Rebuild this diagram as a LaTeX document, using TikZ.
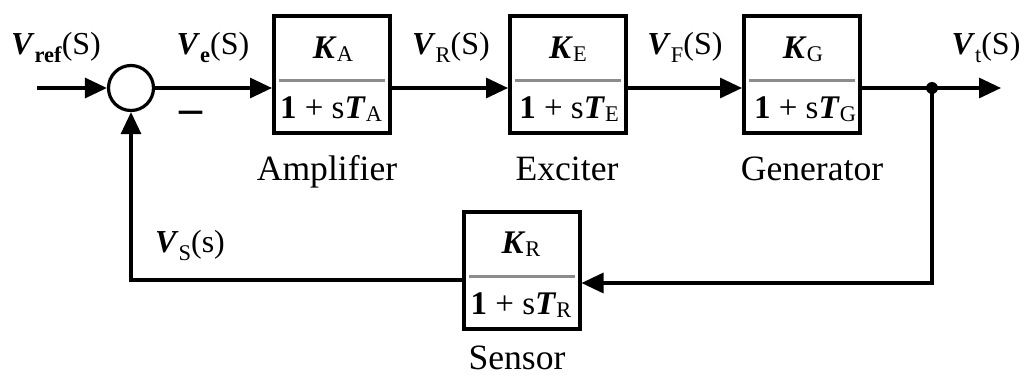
\documentclass[tikz,border=0pt]{standalone}
\usepackage{fontspec}
\setmainfont{Liberation Serif}
\usetikzlibrary{arrows.meta}
\newcommand\lbsub[1]{\raisebox{-0.28em}{\fontsize{11.2}{12}\selectfont #1}}
\newcommand\dnsub[1]{\raisebox{-0.12em}{\fontsize{11.2}{12}\selectfont #1}}
\newcommand\bV{\textbf{\textit{V}}}
\newcommand\bK{\textbf{\textit{K}}}
\newcommand\bT{\textbf{\textit{T}}}
\begin{document}
\begin{tikzpicture}[x=0.5pt,y=-0.5pt,
  conn/.style={line width=1.6pt},
  arr/.style={line width=1.6pt,-{Triangle[length=11pt,width=10pt]}},
  blk/.style={draw,line width=2pt,minimum width=58pt,minimum height=58.5pt,inner sep=0pt},
  sumj/.style={draw,circle,line width=1.6pt,minimum size=22.5pt,inner sep=0pt},
  lbl/.style={anchor=base,inner sep=0pt,font=\fontsize{16}{18}\selectfont},
  frac/.style={anchor=base,inner sep=0pt,font=\fontsize{16.5}{18}\selectfont},
  nm/.style={anchor=base,inner sep=0pt,font=\fontsize{17.8}{20}\selectfont},
  divl/.style={line width=1.5pt,draw=black!45}]
\useasboundingbox (0,0) rectangle (1027,376);
% helper coordinates
\coordinate (ml) at (0,88);
\coordinate (dv) at (0,80);
\coordinate (dvs) at (0,276);
\coordinate (fbr) at (0,283);
\coordinate (fbl) at (0,280);
\coordinate (in) at (37,88);
\coordinate (out) at (1001,88);
% blocks
\node[sumj] (sum) at (131,88) {};
\node[blk] (amp) at (332,74.5) {};
\node[blk] (exc) at (568,74.5) {};
\node[blk] (gen) at (802,74.5) {};
\node[blk] (sen) at (521.5,270.5) {};
\fill (932,88) circle (3pt) coordinate (dot);
% dividers
\draw[divl] ([xshift=3.5pt]amp.west |- dv) -- ([xshift=-3.5pt]amp.east |- dv);
\draw[divl] ([xshift=3.5pt]exc.west |- dv) -- ([xshift=-3.5pt]exc.east |- dv);
\draw[divl] ([xshift=3.5pt]gen.west |- dv) -- ([xshift=-3.5pt]gen.east |- dv);
\draw[divl] ([xshift=3.5pt]sen.west |- dvs) -- ([xshift=-3.5pt]sen.east |- dvs);
% fractions
\node[frac] (ka) at (333,58) {\bK\dnsub{A}};
\node[frac] (da) at (331,118) {\textbf{1} + s\bT\dnsub{A}};
\node[frac] (ke) at (568,58) {\bK\dnsub{E}};
\node[frac] (de) at (569,118) {\textbf{1} + s\bT\dnsub{E}};
\node[frac] (kg) at (803,58) {\bK\dnsub{G}};
\node[frac] (dg) at (805,118) {\textbf{1} + s\bT\dnsub{G}};
\node[frac] (kr) at (521,253) {\bK\dnsub{R}};
\node[frac] (dr) at (521,314) {\textbf{1} + s\bT\dnsub{R}};
% signal labels
\node[lbl] (lref) at (56,54) {\bV\lbsub{\textbf{ref}}(S)};
\node[lbl] (le) at (213,54) {\bV\lbsub{\textbf{e}}(S)};
\node[lbl] (lr) at (451,54) {\bV\lbsub{R}(S)};
\node[lbl] (lf) at (685,54) {\bV\lbsub{F}(S)};
\node[lbl] (lt) at (986,54) {\bV\lbsub{t}(S)};
\node[lbl] (ls) at (190,252) {\bV\lbsub{S}(s)};
\node[anchor=base,inner sep=0pt] (minus) at (191.5,123.5) {\fontsize{23}{23}\selectfont\textbf{–}};
% block names
\node[nm] (namp) at (327,180) {Amplifier};
\node[nm] (nexc) at (567,180) {Exciter};
\node[nm] (ngen) at (812,180) {Generator};
\node[nm] (nsen) at (517,369) {Sensor};
% connectors
\draw[arr] (in) -- (sum.west);
\draw[arr] (sum.east) -- (sum.east -| amp.west);
\draw[arr] (amp.east |- ml) -- (exc.west |- ml);
\draw[arr] (exc.east |- ml) -- (gen.west |- ml);
\draw[conn] (gen.east |- ml) -- (dot);
\draw[arr] (dot) -- (out);
\draw[arr] (dot) |- (sen.east |- fbr);
\draw[arr] (sen.west |- fbl) -| (sum.south);
\end{tikzpicture}
\end{document}
